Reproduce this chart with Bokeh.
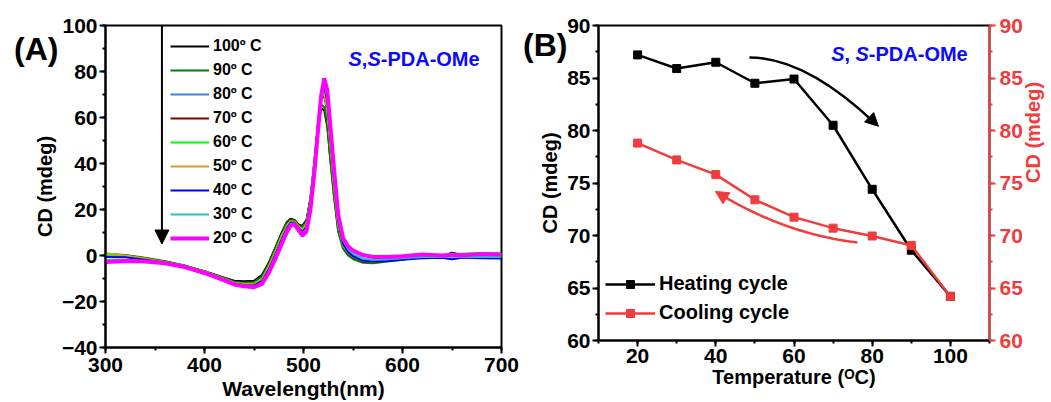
import math
from bokeh.plotting import figure
from bokeh.layouts import row
from bokeh.models import (Legend, LegendItem, Label, Arrow, NormalHead,
                          LinearAxis, Range1d, SingleIntervalTicker, FixedTicker)
from bokeh.embed import file_html
from bokeh.resources import INLINE

FONT = "Liberation Sans"

# ---------------- Panel A data ----------------
wavelength = [300, 320, 340, 360, 380, 400, 420, 430, 440, 450, 458, 465, 472, 478, 483, 487, 491,
              495, 499, 503, 507, 511, 515, 518, 521, 524, 527, 531, 535, 540, 545, 550, 560, 570,
              585, 600, 620, 640, 650, 660, 680, 700]

cd_100 = [0.6, 0.0, -1.2, -2.6, -4.4, -6.8, -9.6, -11.0, -11.2, -11.0, -8.5, -3.0, 4.0, 10.0, 14.5, 16.0, 15.5,
          13.5, 13.0, 15.5, 25.0, 41.0, 57.0, 64.0, 63.0, 56.0, 42.0, 25.0, 11.0, 3.5, 0.5, -1.0, -2.6, -2.8,
          -2.2, -1.6, -0.8, -0.4, 1.2, 0.2, 0.6, 0.5]
cd_90 = [0.8, 0.2, -1.0, -2.5, -4.3, -6.9, -9.8, -11.4, -11.8, -11.6, -9.2, -3.6, 3.5, 9.5, 14.0, 15.6, 15.2,
         13.2, 12.4, 15.0, 24.5, 40.5, 58.5, 65.5, 64.5, 57.0, 42.5, 25.0, 10.5, 3.0, 0.0, -1.5, -3.2, -3.4,
         -2.6, -1.8, -0.6, 0.0, 0.6, 0.8, 1.0, 0.8]
cd_80 = [0.2, -0.4, -1.5, -2.9, -4.7, -7.2, -10.2, -12.0, -12.6, -12.6, -10.6, -5.2, 1.8, 8.0, 12.5, 14.8, 14.6,
         12.4, 10.8, 13.0, 23.0, 39.5, 59.0, 70.0, 72.0, 65.0, 50.0, 31.0, 14.5, 5.0, 1.8, 0.0, -2.0, -2.4,
         -2.0, -1.4, -0.6, -0.4, 0.2, -0.2, 0.2, 0.0]
cd_70 = [0.4, -0.2, -1.3, -2.8, -4.6, -7.0, -10.0, -11.6, -12.0, -12.0, -9.8, -4.4, 2.6, 8.8, 13.2, 15.2, 14.9,
         12.8, 11.8, 14.2, 24.0, 40.0, 58.5, 68.0, 69.5, 62.0, 47.0, 28.5, 12.5, 4.0, 1.0, -0.8, -2.6, -2.8,
         -2.2, -1.5, -0.6, -0.2, 0.6, 0.2, 0.6, 0.4]
cd_60 = [0.3, -0.3, -1.4, -2.9, -4.6, -7.1, -10.1, -11.7, -12.2, -12.2, -10.0, -4.6, 2.4, 8.6, 13.0, 15.0, 14.8,
         12.7, 11.5, 14.0, 24.0, 40.0, 58.5, 68.5, 70.5, 63.0, 48.0, 29.0, 13.0, 4.2, 1.2, -0.5, -2.4, -2.6,
         -2.0, -1.2, -0.4, 0.0, 0.5, 0.4, 1.0, 0.8]
cd_50 = [1.0, 0.0, -1.3, -2.9, -4.6, -7.0, -10.2, -11.9, -12.5, -12.5, -10.4, -5.0, 2.0, 8.3, 12.8, 14.9, 14.7,
         12.6, 11.2, 13.6, 23.6, 40.0, 59.0, 69.5, 71.5, 64.0, 49.0, 30.0, 13.8, 4.6, 1.5, -0.3, -2.2, -2.5,
         -2.0, -1.3, -0.5, 0.1, 0.4, 0.3, 0.6, 0.5]
cd_40 = [-0.6, -0.8, -1.8, -3.1, -4.8, -7.3, -10.4, -12.2, -12.9, -13.0, -11.2, -6.0, 0.8, 7.0, 11.7, 14.3, 14.2,
         12.0, 10.2, 12.4, 22.5, 39.0, 59.0, 71.0, 73.5, 67.0, 52.0, 32.5, 15.0, 5.0, 1.5, -0.3, -2.3, -2.6,
         -2.4, -1.9, -1.2, -1.0, -1.6, -1.0, -1.2, -1.3]
cd_30 = [-2.0, -1.8, -2.4, -3.3, -4.9, -7.4, -10.6, -12.4, -13.2, -13.4, -11.8, -6.8, 0.0, 6.2, 11.0, 13.8, 13.9,
         11.6, 9.6, 11.6, 21.5, 37.8, 58.0, 71.0, 74.5, 69.0, 54.5, 35.0, 17.0, 6.5, 2.8, 1.0, -1.2, -1.8,
         -1.6, -1.2, -0.6, -0.6, -0.4, -0.8, -0.6, -0.5]
cd_20 = [-2.8, -2.4, -2.6, -3.4, -5.0, -7.6, -10.8, -12.6, -13.4, -13.8, -12.4, -7.5, -1.0, 5.0, 10.0, 13.0, 13.5,
         11.0, 8.6, 10.5, 20.0, 36.0, 56.0, 70.0, 77.0, 72.0, 57.0, 37.0, 18.0, 7.5, 4.0, 2.2, 0.2, -0.6,
         -0.7, -0.3, 0.4, 0.0, 0.3, 0.0, 0.6, 0.4]

spectra_labels = ["100º C", "90º C", "80º C", "70º C", "60º C", "50º C", "40º C", "30º C", "20º C"]
spectra_values = [cd_100, cd_90, cd_80, cd_70, cd_60, cd_50, cd_40, cd_30, cd_20]
spectra_colors = ["#000000", "#008000", "#3C82E6", "#800000", "#00FF00", "#D2A01E", "#0000FF", "#1CC6C6", "#FF00FF"]
spectra_widths = [2, 2, 2, 2, 2, 2, 2, 2, 4]

# ---------------- Panel B data ----------------
temperature = [20, 30, 40, 50, 60, 70, 80, 90, 100]
heating_cd = [87.2, 85.9, 86.5, 84.5, 84.9, 80.5, 74.4, 68.6, 64.2]
cooling_cd = [78.8, 77.2, 75.8, 73.4, 71.75, 70.7, 69.95, 69.05, 64.2]

RED = "#F03C3C"
BLUE = "#0A0AFF"


def style_axis(ax, color="black", lw=2):
    ax.axis_line_color = color
    ax.axis_line_width = lw
    ax.major_tick_line_color = color
    ax.minor_tick_line_color = color
    ax.major_tick_line_width = lw
    ax.minor_tick_line_width = lw
    ax.major_tick_out = 6
    ax.major_tick_in = 0
    ax.minor_tick_out = 3
    ax.minor_tick_in = 0
    ax.major_label_text_font = FONT
    ax.major_label_text_font_style = "bold"
    ax.major_label_text_font_size = "21px"
    ax.major_label_text_color = color
    ax.major_label_standoff = 2
    ax.axis_label_text_font = FONT
    ax.axis_label_text_font_style = "bold"
    ax.axis_label_text_font_size = "20px"
    ax.axis_label_text_color = color
    ax.axis_label_standoff = 3


def panel_letter(text, pos, standoff):
    return LinearAxis(ticker=FixedTicker(ticks=[pos]), major_label_overrides={pos: text},
                      axis_line_color=None, major_tick_line_color=None, minor_tick_line_color=None,
                      major_tick_out=0, major_tick_in=0, minor_tick_out=0, minor_tick_in=0,
                      major_label_standoff=standoff, major_label_text_font_size="32px",
                      major_label_text_font=FONT, major_label_text_font_style="bold",
                      major_label_text_color="black")


# ---------------- Panel A ----------------
pa = figure(frame_width=396, frame_height=322, min_border_left=105, min_border_right=19,
            min_border_top=25, min_border_bottom=53,
            x_range=Range1d(300, 700), y_range=Range1d(-40, 100),
            output_backend="svg", toolbar_location=None)
pa.outline_line_color = "black"
pa.outline_line_width = 2
pa.xgrid.visible = False
pa.ygrid.visible = False
pa.xaxis.ticker = SingleIntervalTicker(interval=100, num_minor_ticks=2)
pa.yaxis.ticker = SingleIntervalTicker(interval=20, num_minor_ticks=2)
style_axis(pa.xaxis[0])
style_axis(pa.yaxis[0])
pa.xaxis.axis_label = "Wavelength(nm)"
pa.xaxis.axis_label_text_font_size = "21px"
pa.xaxis.major_label_standoff = 4
pa.xaxis.axis_label_standoff = 2
pa.yaxis.axis_label = "CD (mdeg)"
pa.add_layout(panel_letter("(A)", 89.8, -28), "left")

items_a = []
for lab, vals, col, w in zip(spectra_labels, spectra_values, spectra_colors, spectra_widths):
    r = pa.line(wavelength, vals, line_color=col, line_width=w)
    items_a.append(LegendItem(label=lab, renderers=[r]))

leg_a = Legend(items=items_a, location=(65, 99), padding=0, margin=0,
               glyph_width=39, glyph_height=20, label_height=20, spacing=4, label_standoff=4,
               label_text_font=FONT, label_text_font_style="bold", label_text_font_size="16px",
               label_text_color="black", border_line_alpha=0, background_fill_alpha=0)
pa.add_layout(leg_a)

arrow_a_x = 357
arrow_a_y = [100, 5]
pa.add_layout(Arrow(end=NormalHead(size=14, fill_color="black", line_color="black"),
                    x_start=arrow_a_x, y_start=arrow_a_y[0], x_end=arrow_a_x, y_end=arrow_a_y[1],
                    line_color="black", line_width=2))

name_a_x, name_a_y = 545.5, 85.6
for txt, off, sty in [("S", 0, "bold italic"), (",", 13.3, "bold"), ("S", 18.9, "bold italic"),
                      ("-PDA-OMe", 32.2, "bold")]:
    pa.add_layout(Label(x=name_a_x, y=name_a_y, x_offset=off, text=txt, text_font=FONT,
                        text_font_style=sty, text_font_size="20px", text_color=BLUE,
                        text_baseline="middle", text_align="left"))

# ---------------- Panel B ----------------
pb = figure(frame_width=391, frame_height=315, min_border_left=76, min_border_right=63,
            min_border_top=20, min_border_bottom=65,
            x_range=Range1d(10, 110), y_range=Range1d(60, 90),
            output_backend="svg", toolbar_location=None)
pb.outline_line_color = "black"
pb.outline_line_width = 2
pb.xgrid.visible = False
pb.ygrid.visible = False
pb.xaxis.ticker = SingleIntervalTicker(interval=20, num_minor_ticks=2)
pb.yaxis.ticker = SingleIntervalTicker(interval=5, num_minor_ticks=2)
style_axis(pb.xaxis[0])
style_axis(pb.yaxis[0])
pb.yaxis.axis_label = "CD (mdeg)"
pb.xaxis.axis_label = "Temperature (ᴼC)"
pb.xaxis.axis_label_standoff = 0
pb.add_layout(panel_letter("(B)", 88.1, -31), "left")

pb.extra_y_ranges = {"right": Range1d(60, 90)}
rax = LinearAxis(y_range_name="right", axis_label="CD (mdeg)",
                 ticker=SingleIntervalTicker(interval=5, num_minor_ticks=2),
                 axis_label_orientation=math.pi / 2)
style_axis(rax, color=RED, lw=2)
rax.major_label_standoff = 4
rax.axis_label_standoff = 7
rax.axis_label_text_baseline = "top"
pb.add_layout(rax, "right")

heat_arrow = dict(x0=48.6, y0=86.95, cx=62.9, cy=86.95, x1=80.7, y1=80.7)
cool_arrow = dict(x0=76.2, y0=69.33, cx=58.1, cy=70.1, x1=40.7, y1=74.0)
heat_head = [79.8, 81.05, 81.6, 80.4]
cool_head = [42.1, 73.69, 39.9, 74.2]
pb.quadratic(x0=[heat_arrow["x0"]], y0=[heat_arrow["y0"]], x1=[heat_arrow["x1"]], y1=[heat_arrow["y1"]],
             cx=[heat_arrow["cx"]], cy=[heat_arrow["cy"]], line_color="black", line_width=2.5)
pb.quadratic(x0=[cool_arrow["x0"]], y0=[cool_arrow["y0"]], x1=[cool_arrow["x1"]], y1=[cool_arrow["y1"]],
             cx=[cool_arrow["cx"]], cy=[cool_arrow["cy"]], line_color=RED, line_width=2.5)
pb.add_layout(Arrow(end=NormalHead(size=13, fill_color="black", line_color="black"),
                    x_start=heat_head[0], y_start=heat_head[1], x_end=heat_head[2], y_end=heat_head[3],
                    line_alpha=0))
pb.add_layout(Arrow(end=NormalHead(size=13, fill_color=RED, line_color=RED),
                    x_start=cool_head[0], y_start=cool_head[1], x_end=cool_head[2], y_end=cool_head[3],
                    line_alpha=0))

hl = pb.line(temperature, heating_cd, line_color="black", line_width=2.5)
hs = pb.scatter(temperature, heating_cd, marker="square", size=8, fill_color="black", line_color="black")
cl = pb.line(temperature, cooling_cd, line_color=RED, line_width=2.5, y_range_name="right")
cs = pb.scatter(temperature, cooling_cd, marker="square", size=8, fill_color=RED, line_color=RED,
                y_range_name="right")

leg_b = Legend(items=[LegendItem(label="Heating cycle", renderers=[hl, hs]),
                      LegendItem(label="Cooling cycle", renderers=[cl, cs])],
               location=(7, 16), padding=0, margin=0, glyph_width=50, glyph_height=20,
               label_height=20, spacing=6, label_standoff=4,
               label_text_font=FONT, label_text_font_style="bold", label_text_font_size="20px",
               label_text_color="black", border_line_alpha=0, background_fill_alpha=0)
pb.add_layout(leg_b)

name_b_x, name_b_y = 69.5, 87.3
for txt, off, sty in [("S", 0, "bold italic"), (", ", 13.3, "bold"), ("S", 24.4, "bold italic"),
                      ("-PDA-OMe", 37.7, "bold")]:
    pb.add_layout(Label(x=name_b_x, y=name_b_y, x_offset=off, text=txt, text_font=FONT,
                        text_font_style=sty, text_font_size="20px", text_color=BLUE,
                        text_baseline="middle", text_align="left"))

layout = row(pa, pb)
open("out.html", "w").write(file_html(layout, INLINE))
